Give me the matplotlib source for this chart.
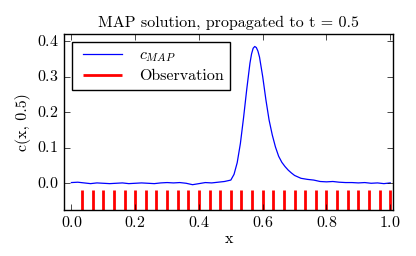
import matplotlib
matplotlib.use("Agg")
import matplotlib.pyplot as plt
import numpy as np

plt.style.use("classic")
plt.rcParams["font.family"] = ["cmr10", "DejaVu Serif"]
plt.rcParams["mathtext.fontset"] = "cm"
plt.rcParams["axes.formatter.use_mathtext"] = True
plt.rcParams["font.size"] = 11.5

x_map = [0.0, 0.02, 0.04, 0.06, 0.08, 0.10, 0.12, 0.14, 0.16, 0.18, 0.20, 0.22,
         0.24, 0.26, 0.28, 0.30, 0.32, 0.34, 0.36, 0.38, 0.40, 0.42, 0.44, 0.46,
         0.48, 0.50, 0.51, 0.52, 0.53, 0.54, 0.55, 0.56, 0.565, 0.57, 0.575, 0.58,
         0.585, 0.59, 0.60, 0.61, 0.62, 0.63, 0.64, 0.65, 0.66, 0.67, 0.68, 0.69,
         0.70, 0.72, 0.74, 0.76, 0.78, 0.80, 0.82, 0.84, 0.86, 0.88, 0.90, 0.92,
         0.94, 0.96, 0.98, 1.0]
c_map = [0.002, 0.003, 0.001, -0.001, 0.001, 0.0, -0.001, 0.000, 0.001, -0.001,
         0.000, 0.001, 0.000, -0.001, 0.001, 0.002, 0.001, 0.002, 0.000, -0.004,
         -0.001, 0.002, 0.001, 0.003, 0.005, 0.009, 0.025, 0.058, 0.112, 0.185,
         0.265, 0.338, 0.364, 0.380, 0.385, 0.382, 0.372, 0.355, 0.300, 0.235,
         0.178, 0.136, 0.102, 0.076, 0.059, 0.047, 0.037, 0.029, 0.022, 0.014,
         0.011, 0.009, 0.005, 0.004, 0.005, 0.003, 0.002, 0.002, 0.001, 0.002,
         0.0, 0.001, -0.001, 0.001]
obs_x = [i / 30 for i in range(1, 31)]

fig = plt.figure(figsize=(4.16, 2.56), dpi=100)
ax = fig.add_axes([0.154, 0.18, 0.791, 0.687])
ax.plot(x_map, c_map, color="blue", lw=0.9, label=r"$c_{MAP}$")
ax.vlines(obs_x, -0.1, -0.02, color="red", lw=2, label="Observation")
ax.set_xlim(-0.023, 1.009)
ax.set_ylim(-0.075, 0.42)
ax.set_xticks([0.0, 0.2, 0.4, 0.6, 0.8, 1.0])
ax.set_yticks([0.0, 0.1, 0.2, 0.3, 0.4])
ax.set_xlabel("x", labelpad=1)
ax.set_ylabel("c(x, 0.5)", labelpad=4)
ax.set_title("MAP solution, propagated to t = 0.5", fontsize=11.5)
ax.legend(loc="upper left", fontsize=11.5, fancybox=False, handlelength=3,
          borderaxespad=0.5, labelspacing=0.3)
fig.savefig("out.png", dpi=100)
